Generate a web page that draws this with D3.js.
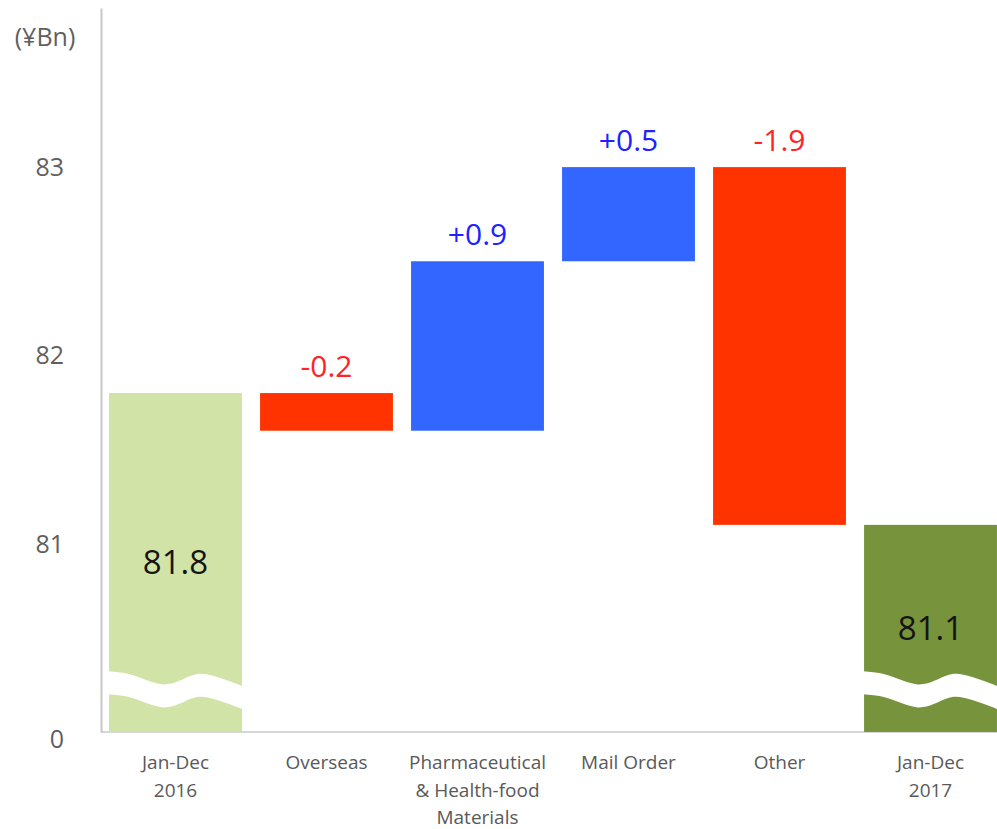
<!DOCTYPE html>
<html>
<head>
<meta charset="utf-8">
<script src="https://cdn.jsdelivr.net/npm/d3@7"></script>
<style>
  html, body { margin: 0; padding: 0; background: #fff; }
  svg { display: block; font-family: "Open Sans", "Noto Sans", sans-serif; }
</style>
</head>
<body>
<svg id="chart" width="997" height="829"></svg>
<script>
// Net sales bridge, Jan-Dec 2016 to Jan-Dec 2017 (¥Bn)
const categories = ["Jan-Dec\n2016", "Overseas", "Pharmaceutical\n& Health-food\nMaterials", "Mail Order", "Other", "Jan-Dec\n2017"];
const values = [81.8, -0.2, 0.9, 0.5, -1.9, 81.1];
const kinds = ["start", "delta", "delta", "delta", "delta", "end"];
const yTickValues = [80, 81, 82, 83];
const yTickLabels = ["0", "81", "82", "83"];
const unitLabel = "(¥Bn)";

const colors = {
  start: "#d1e3a6",
  end: "#77933c",
  up: "#3366ff",
  down: "#ff3300",
  upText: "#2121ff",
  downText: "#ff2226",
  axis: "#c8c8c8",
  tickText: "#5f5f5f",
  catText: "#595959",
  totalText: "#141414"
};

const svg = d3.select("#chart");
const W = 997, H = 829;
const axisX = 101, baseY = 732, topY = 8;
const axisFloor = 80; // broken axis: the floor is labelled 0

const y = d3.scaleLinear().domain([axisFloor, 83.845]).range([baseY, topY]);
const x = d3.scaleBand()
  .domain(d3.range(categories.length))
  .range([100, 1006])
  .paddingInner(0.12)
  .paddingOuter(0.06);

// waterfall extents
let running = 0;
const bars = values.map((v, i) => {
  const kind = kinds[i];
  let lo, hi, fill;
  if (kind === "start" || kind === "end") {
    lo = axisFloor; hi = v; running = v;
    fill = colors[kind];
  } else {
    const a = running, b = running + v;
    lo = Math.min(a, b); hi = Math.max(a, b);
    running = b;
    fill = v >= 0 ? colors.up : colors.down;
  }
  return { i, v, kind, lo, hi, fill };
});

// axes lines
svg.append("line")
  .attr("x1", axisX).attr("x2", W)
  .attr("y1", baseY).attr("y2", baseY)
  .attr("stroke", "#d6d6d6").attr("stroke-width", 2);

const yAxis = d3.axisLeft(y)
  .tickValues(yTickValues)
  .tickFormat((d, k) => yTickLabels[k])
  .tickSize(0)
  .tickPadding(37);

const gy = svg.append("g").attr("transform", `translate(${axisX},0)`).call(yAxis);
gy.select(".domain").attr("stroke", colors.axis).attr("stroke-width", 2);
gy.selectAll(".tick text")
  .attr("fill", colors.tickText)
  .attr("font-size", 25)
  .attr("font-family", "'Open Sans', sans-serif")
  .attr("dy", d => d === axisFloor ? "0.62em" : "0.34em");

svg.append("text")
  .attr("x", 45).attr("y", 46)
  .attr("text-anchor", "middle")
  .attr("fill", colors.tickText)
  .attr("font-size", 25)
  .text(unitLabel);

// bars
svg.append("g").selectAll("rect")
  .data(bars)
  .join("rect")
  .attr("x", d => x(d.i))
  .attr("width", x.bandwidth())
  .attr("y", d => y(d.hi))
  .attr("height", d => y(d.lo) - y(d.hi))
  .attr("fill", d => d.fill);

// wavy break across the total bars
const breakAt = 80.28;
const waveTop = [[0, -8], [0.12, -7], [0.25, -1], [0.4, 7], [0.52, 3], [0.66, -8], [0.8, -3], [1, 7]];
const bandGap = 23;
const line = d3.line().curve(d3.curveBasis);
bars.filter(d => d.kind !== "delta").forEach(d => {
  const x0 = x(d.i) - 1, w = x.bandwidth() + 2, cy = y(breakAt);
  const topPts = waveTop.map(([u, o]) => [x0 + u * w, cy + o]);
  const botPts = waveTop.map(([u, o]) => [x0 + u * w, cy + o + bandGap]).reverse();
  const top = line(topPts);
  const bot = line(botPts).replace(/^M/, "L");
  svg.append("path")
    .attr("d", top + bot + "Z")
    .attr("fill", "#ffffff");
});

// value labels
const fmtDelta = d3.format("+.1f");
svg.append("g").selectAll("text")
  .data(bars)
  .join("text")
  .attr("x", d => x(d.i) + x.bandwidth() / 2)
  .attr("y", d => d.kind === "delta" ? y(d.hi) - 16 : (y(d.hi) + y(d.lo)) / 2)
  .attr("dy", d => d.kind === "delta" ? 0 : "0.36em")
  .attr("text-anchor", "middle")
  .attr("font-size", d => d.kind === "delta" ? 30 : 33)
  .attr("fill", d => d.kind === "delta" ? (d.v >= 0 ? colors.upText : colors.downText) : colors.totalText)
  .text(d => d.kind === "delta" ? fmtDelta(d.v).replace("−", "-") : d3.format(".1f")(d.v));

// category labels
const catG = svg.append("g");
categories.forEach((c, i) => {
  const t = catG.append("text")
    .attr("x", x(i) + x.bandwidth() / 2)
    .attr("y", 769)
    .attr("text-anchor", "middle")
    .attr("font-size", 19)
    .attr("fill", colors.catText);
  c.split("\n").forEach((ln, k) => {
    t.append("tspan")
      .attr("x", x(i) + x.bandwidth() / 2)
      .attr("dy", k === 0 ? 0 : 27.5)
      .text(ln);
  });
});
</script>
</body>
</html>
